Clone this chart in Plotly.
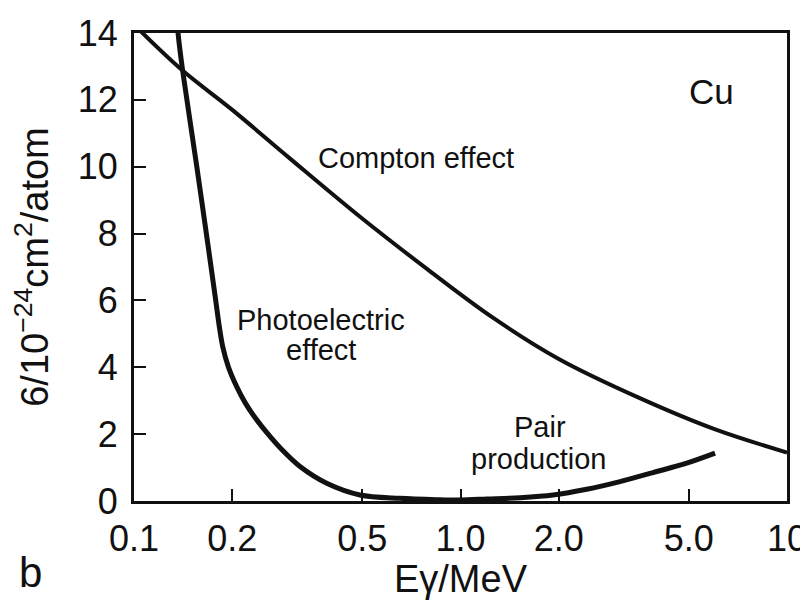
import plotly.graph_objects as go

# Compton effect cross-section for Cu (10^-24 cm^2/atom)
compton_E = [0.1, 0.14, 0.2, 0.3, 0.5, 0.8, 1.25, 2.0, 3.5, 6.0, 10.0]
compton_s = [14.25, 12.9, 11.7, 10.25, 8.45, 6.9, 5.5, 4.25, 3.1, 2.15, 1.45]

# Photoelectric effect + pair production (single lower curve)
lower_E = [0.1359, 0.1364, 0.1408, 0.1558, 0.1693, 0.1767, 0.1825, 0.1869, 0.1944, 0.2063,
           0.2196, 0.2338, 0.2609, 0.2840, 0.3224, 0.3892, 0.4922, 0.6528, 0.85, 1.0,
           1.203, 1.521, 1.92, 2.435, 3.08, 3.89, 4.93, 6.02]
lower_s = [14.25, 14.01, 12.9, 9.99, 7.51, 6.22, 5.22, 4.62, 4.02, 3.42,
           2.92, 2.52, 1.93, 1.53, 1.03, 0.53, 0.18, 0.08, 0.04, 0.03,
           0.06, 0.10, 0.18, 0.35, 0.58, 0.85, 1.13, 1.43]

x_tickvals = [0.1, 0.2, 0.5, 1.0, 2.0, 5.0, 10.0]
x_ticktext = ["0.1", "0.2", "0.5", "1.0", "2.0", "5.0", "10"]
y_tickvals = [0, 2, 4, 6, 8, 10, 12, 14]

FONT = "Liberation Sans"
INK = "#111"

fig = go.Figure()
fig.add_trace(go.Scatter(x=compton_E, y=compton_s, mode="lines",
                         line=dict(color=INK, width=4, shape="spline", smoothing=1.0),
                         showlegend=False, hoverinfo="skip"))
fig.add_trace(go.Scatter(x=lower_E, y=lower_s, mode="lines",
                         line=dict(color=INK, width=5, shape="spline", smoothing=0.9),
                         showlegend=False, hoverinfo="skip"))

def note(text, lx, y, size=29):
    fig.add_annotation(x=lx, y=y, xref="x", yref="y", text=text, showarrow=False,
                       font=dict(family=FONT, size=size, color=INK),
                       xanchor="center", yanchor="middle")

note("Compton effect", -0.136, 10.27)
note("Photoelectric", -0.427, 5.42)
note("effect", -0.427, 4.52)
note("Pair", 0.2435, 2.22)
note("production", 0.2374, 1.26)
note("Cu", 0.770, 12.25, size=35)

fig.add_annotation(x=-0.159, y=-0.152, xref="paper", yref="paper", text="b",
                   showarrow=False, font=dict(family=FONT, size=42, color=INK),
                   xanchor="center", yanchor="middle")

fig.update_layout(
    width=800, height=592,
    margin=dict(l=126, r=21, t=25, b=99, autoexpand=False),
    paper_bgcolor="white", plot_bgcolor="white",
    font=dict(family=FONT, color=INK),
)
fig.update_xaxes(
    type="log", range=[-1, 1],
    tickvals=x_tickvals, ticktext=x_ticktext,
    ticks="inside", ticklen=12, tickwidth=2, tickcolor=INK,
    showline=True, linewidth=3, linecolor=INK, mirror=True,
    showgrid=False, zeroline=False,
    tickfont=dict(family=FONT, size=36, color=INK),
    ticklabelstandoff=4,
    title=dict(text="Eγ/MeV", font=dict(family=FONT, size=38, color=INK), standoff=0),
)
fig.update_yaxes(
    range=[0, 14], tickvals=y_tickvals,
    ticks="inside", ticklen=12, tickwidth=2, tickcolor=INK,
    showline=True, linewidth=3, linecolor=INK, mirror=True,
    showgrid=False, zeroline=False,
    tickfont=dict(family=FONT, size=36, color=INK),
    ticklabelstandoff=6,
    title=dict(text="6/10<sup>−24</sup>cm<sup>2</sup>/atom",
               font=dict(family=FONT, size=38, color=INK), standoff=28),
)

fig.write_html("out.html")
